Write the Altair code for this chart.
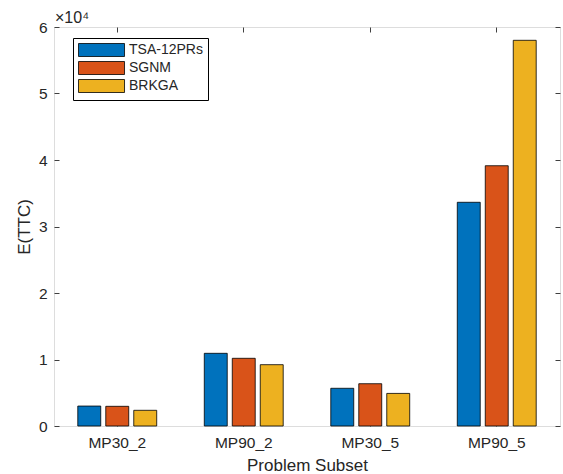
import altair as alt
import pandas as pd

subsets = ["MP30_2", "MP90_2", "MP30_5", "MP90_5"]
algos = ["TSA-12PRs", "SGNM", "BRKGA"]
colors = ["#0072BD", "#D95319", "#EDB120"]
tsa = [0.30, 1.093, 0.567, 3.364]
sgnm = [0.296, 1.018, 0.636, 3.914]
brkga = [0.236, 0.922, 0.49, 5.80]
y_ticks = [0, 1, 2, 3, 4, 5, 6]

rows = []
for i, s in enumerate(subsets):
    for a, vals in zip(algos, [tsa, sgnm, brkga]):
        rows.append({"subset": s, "algo": a, "value": vals[i]})
df = pd.DataFrame(rows)

W, H = 506, 399
FONT = "Liberation Sans"
AX = "#404040"
TXT = "#262626"

xscale = alt.Scale(domain=subsets, paddingInner=0, paddingOuter=0)
yscale = alt.Scale(domain=[0, 6], nice=False)
xoff = alt.XOffset("algo:N", sort=algos,
                   scale=alt.Scale(domain=algos, paddingInner=0.18, paddingOuter=0.85))

legend_path = "M-1,-1L6.08,-1L6.08,1L-1,1Z"

bars = alt.Chart(df).mark_bar(stroke="black", strokeWidth=0.8).encode(
    x=alt.X("subset:N", sort=subsets, scale=xscale,
            axis=alt.Axis(title="Problem Subset", labelAngle=0, tickSize=0, domain=False,
                          labelPadding=9, titlePadding=7, labelFontSize=15.5,
                          titleFontSize=17, labelColor=TXT, titleColor=TXT,
                          titleFontWeight="normal", labelFont=FONT, titleFont=FONT)),
    xOffset=xoff,
    y=alt.Y("value:Q", scale=yscale,
            axis=alt.Axis(title="E(TTC)", values=y_ticks, tickSize=0, domain=False, grid=False,
                          labelPadding=7, titlePadding=5, labelFontSize=15.5,
                          titleFontSize=17, labelColor=TXT, titleColor=TXT,
                          titleFontWeight="normal", labelFont=FONT, titleFont=FONT)),
    color=alt.Color("algo:N", sort=algos, scale=alt.Scale(domain=algos, range=colors),
                    legend=alt.Legend(title=None, orient="none", legendX=19, legendY=11,
                                      symbolType=legend_path, symbolSize=169,
                                      symbolStrokeColor="black", symbolStrokeWidth=0.8,
                                      symbolOpacity=1,
                                      labelOffset=37, labelFontSize=14, labelFont=FONT,
                                      labelColor=TXT, rowPadding=0, padding=5,
                                      strokeColor="black", fillColor="white")),
)

# inward ticks: top edge and left edge
ticks_a = alt.Chart(df).mark_bar(opacity=0).encode(
    x=alt.X("subset:N", sort=subsets, scale=xscale,
            axis=alt.Axis(orient="bottom", offset=-H, labels=False, title=None, domain=False,
                          tickSize=5, tickColor=AX)),
    xOffset=xoff,
    y=alt.Y("value:Q", scale=yscale,
            axis=alt.Axis(orient="right", offset=-W, values=y_ticks, labels=False, title=None,
                          domain=False, grid=False, tickSize=5, tickColor=AX)),
)

# inward ticks: bottom edge and right edge
ticks_b = alt.Chart(df).mark_bar(opacity=0).encode(
    x=alt.X("subset:N", sort=subsets, scale=xscale,
            axis=alt.Axis(orient="top", offset=-H, labels=False, title=None, domain=False,
                          tickSize=5, tickColor=AX)),
    xOffset=xoff,
    y=alt.Y("value:Q", scale=yscale,
            axis=alt.Axis(orient="left", offset=-W, values=y_ticks, labels=False, title=None,
                          domain=False, grid=False, tickSize=5, tickColor=AX)),
)

chart = alt.layer(bars, ticks_a, ticks_b).resolve_axis(
    x="independent", y="independent"
).properties(
    width=W, height=H,
    title=alt.TitleParams("×10⁴", anchor="start", frame="group", fontSize=16,
                          fontWeight="normal", font=FONT, color=TXT, offset=4, dx=1, dy=10),
    autosize=alt.AutoSizeParams(type="none"),
    padding={"left": 54, "top": 27, "right": 3, "bottom": 48},
).configure_view(stroke=AX, strokeWidth=1).configure(background="white")

chart.save("out.html", embed_options={"renderer": "svg", "actions": False})
